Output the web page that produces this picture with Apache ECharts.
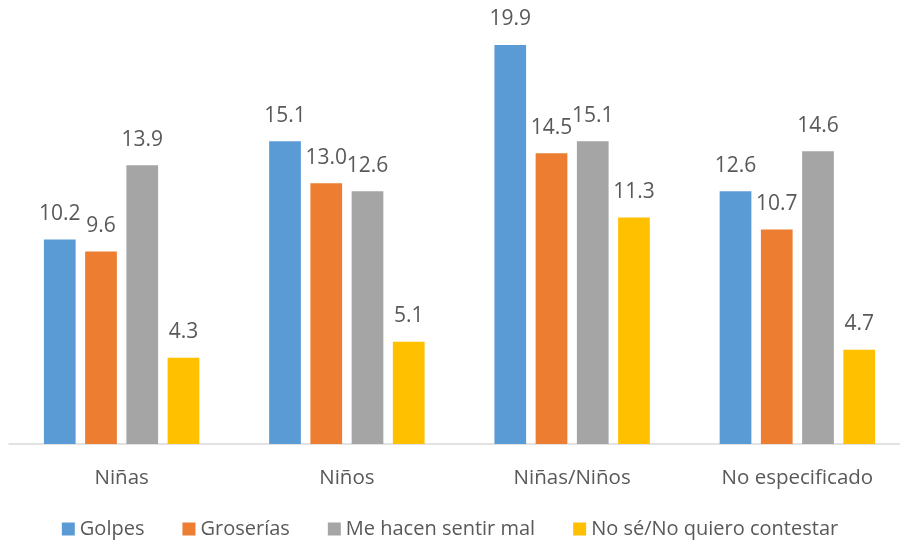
<!DOCTYPE html>
<html>
<head>
<meta charset="utf-8">
<script src="https://cdn.jsdelivr.net/npm/echarts@6/dist/echarts.min.js"></script>
<style>html,body{margin:0;padding:0;background:#fff;overflow:hidden;}#c{width:900px;height:543px;}</style>
</head>
<body>
<div id="c"></div>
<script>
const categories = ['Niñas', 'Niños', 'Niñas/Niños', 'No especificado'];
const seriesNames = ['Golpes', 'Groserías', 'Me hacen sentir mal', 'No sé/No quiero contestar'];
const golpes = [10.2, 15.1, 19.9, 12.6];
const groserias = [9.6, 13.0, 14.5, 10.7];
const sentirMal = [13.9, 12.6, 15.1, 14.6];
const noSe = [4.3, 5.1, 11.3, 4.7];
const colors = ['#5B9BD5', '#ED7D31', '#A5A5A5', '#FFC000'];
const values = [golpes, groserias, sentirMal, noSe];

const font = '"Open Sans", "Liberation Sans", sans-serif';
const chart = echarts.init(document.getElementById('c'));
chart.setOption({
  animation: false,
  grid: { left: 9, width: 901, top: 43, height: 401, containLabel: false, outerBoundsMode: 'none' },
  legend: {
    top: 514,
    left: 'center',
    itemWidth: 13,
    itemHeight: 13,
    itemGap: 38,
    icon: 'rect',
    textStyle: { fontFamily: font, fontSize: 20, color: '#595959' },
    data: seriesNames
  },
  xAxis: {
    type: 'category',
    data: categories,
    axisLine: { lineStyle: { color: '#D9D9D9', width: 1.5 } },
    axisTick: { show: false },
    axisLabel: { fontFamily: font, fontSize: 20.5, color: '#595959', margin: 24 }
  },
  yAxis: {
    type: 'value',
    min: 0,
    max: 20,
    show: false,
    splitLine: { show: false }
  },
  series: seriesNames.map((n, i) => ({
    name: n,
    type: 'bar',
    data: values[i],
    barGap: '30%',
    barCategoryGap: '31%',
    itemStyle: { color: colors[i] },
    label: {
      show: true,
      position: 'top',
      distance: 15,
      fontFamily: font,
      fontSize: 21,
      color: '#595959',
      formatter: p => p.value.toFixed(1)
    }
  }))
});
</script>
</body>
</html>
